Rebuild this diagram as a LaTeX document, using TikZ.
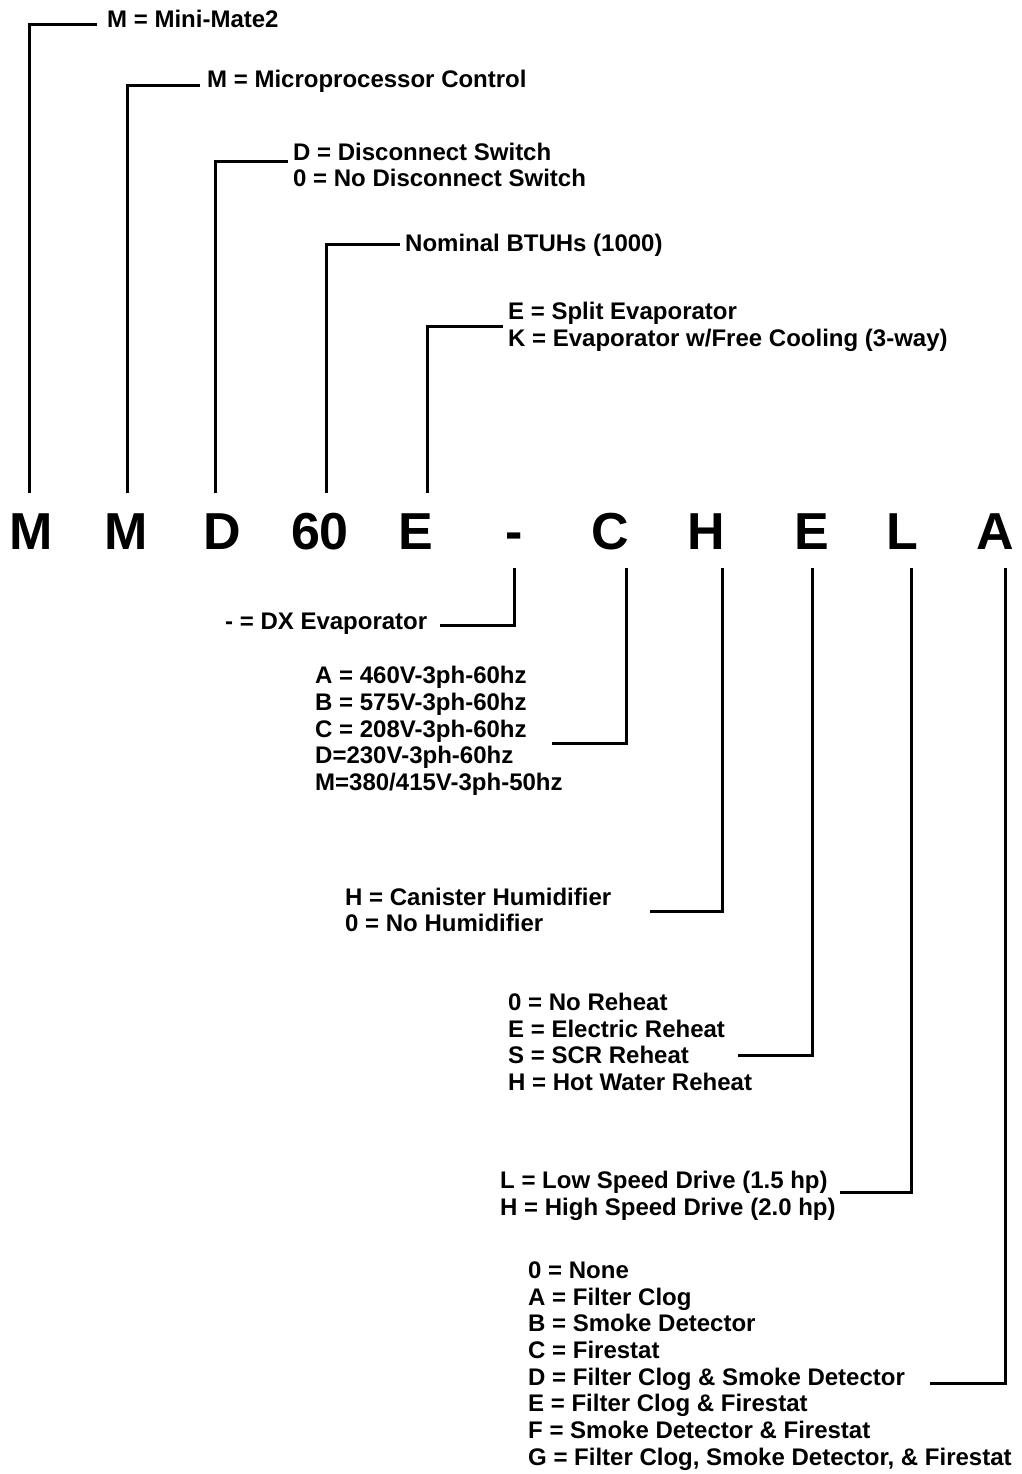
\documentclass[tikz,border=0pt]{standalone}
\usepackage{fontspec}
\setmainfont{Liberation Sans}
\usetikzlibrary{positioning}

\begin{document}
\begin{tikzpicture}[x=1pt, y=-1pt,
  code/.style={font=\fontsize{52}{52}\selectfont\bfseries, inner sep=0pt, text height=37pt, text depth=0pt, outer ysep=19pt, anchor=base},
  opt/.style={font=\fontsize{24}{26.7}\selectfont\bfseries, align=left, inner sep=0pt, anchor=west},
  lead/.style={line width=3pt}]
  \useasboundingbox (0,0) rectangle (1021,1474);

  % model code
  \node[code] (c1) at (31,549) {M};
  \node[code] (c2) at (126,549) {M};
  \node[code] (c3) at (222,549) {D};
  \node[code] (c4) at (320,549) {60};
  \node[code] (c5) at (416,549) {E};
  \node[code] (c6) at (514,549) {-};
  \node[code] (c7) at (610,549) {C};
  \node[code] (c8) at (706,549) {H};
  \node[code] (c9) at (812,549) {E};
  \node[code] (c10) at (902,549) {L};
  \node[code] (c11) at (995,549) {A};

  % options above the code
  \node[opt] (series) at (107,19) {M = Mini-Mate2};
  \node[opt] (ctrl) at (207,81) {M = Microprocessor Control};
  \node[opt] (disc) at (293,165) {D = Disconnect Switch\\0 = No Disconnect Switch};
  \node[opt] (btuh) at (405,245) {Nominal BTUHs (1000)};
  \node[opt] (evap) at (508,327) {E = Split Evaporator\\K = Evaporator w/Free Cooling (3-way)};

  % options below the code
  \node[opt] (dx) at (225,624) {- = DX Evaporator};
  \node[opt] (volt) at (315,731) {A = 460V-3ph-60hz\\B = 575V-3ph-60hz\\C = 208V-3ph-60hz\\D=230V-3ph-60hz\\M=380/415V-3ph-50hz};
  \node[opt] (humid) at (345,910) {H = Canister Humidifier\\0 = No Humidifier};
  \node[opt] (reheat) at (508,1042) {0 = No Reheat\\E = Electric Reheat\\S = SCR Reheat\\H = Hot Water Reheat};
  \node[opt] (drive) at (500,1196) {L = Low Speed Drive (1.5 hp)\\H = High Speed Drive (2.0 hp)};
  \node[opt] (alarm) at (528,1366) {0 = None\\A = Filter Clog\\B = Smoke Detector\\C = Firestat\\D = Filter Clog \& Smoke Detector\\E = Filter Clog \& Firestat\\F = Smoke Detector \& Firestat\\G = Filter Clog, Smoke Detector, \& Firestat};

  % leader ends
  \coordinate (series-end) at (97,25);
  \coordinate (ctrl-end) at (200,86);
  \coordinate (disc-end) at (288,162);
  \coordinate (btuh-end) at (400,244);
  \coordinate (evap-end) at (503,326);
  \coordinate (dx-end) at (440,625);
  \coordinate (volt-end) at (552,743);
  \coordinate (humid-end) at (650,911);
  \coordinate (reheat-end) at (738,1055);
  \coordinate (drive-end) at (840,1192);
  \coordinate (alarm-end) at (930,1383);

  \draw[lead] (series-end) -| ([xshift=-2pt]c1.north);
  \draw[lead] (ctrl-end) -| ([xshift=1pt]c2.north);
  \draw[lead] (disc-end) -| ([xshift=-7pt]c3.north);
  \draw[lead] (btuh-end) -| ([xshift=6pt]c4.north);
  \draw[lead] (evap-end) -| ([xshift=11pt]c5.north);
  \draw[lead] (dx-end) -| (c6.south);
  \draw[lead] (volt-end) -| ([xshift=16pt]c7.south);
  \draw[lead] (humid-end) -| ([xshift=16pt]c8.south);
  \draw[lead] (reheat-end) -| (c9.south);
  \draw[lead] (drive-end) -| ([xshift=9pt]c10.south);
  \draw[lead] (alarm-end) -| ([xshift=10pt]c11.south);
\end{tikzpicture}
\end{document}
